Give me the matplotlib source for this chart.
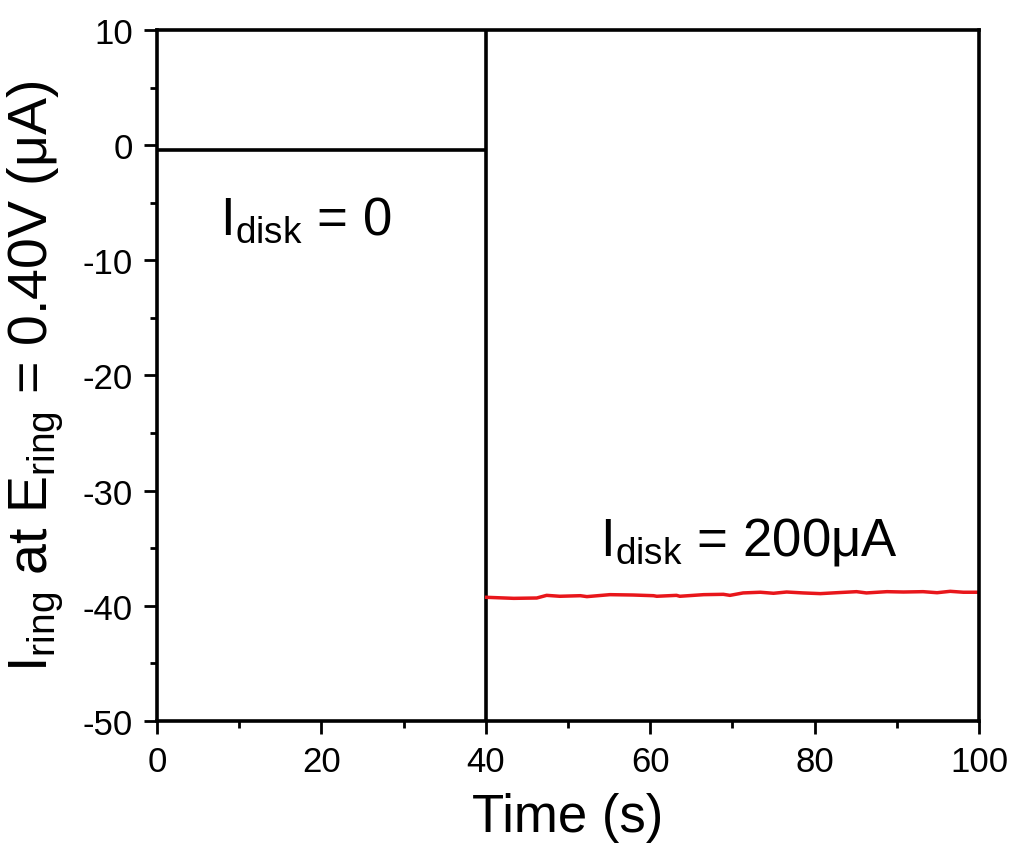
import matplotlib
matplotlib.use("Agg")
import matplotlib.pyplot as plt
from matplotlib.ticker import MultipleLocator

plt.rcParams['font.family'] = ['Liberation Sans', 'DejaVu Sans']
plt.rcParams['mathtext.fontset'] = 'custom'
plt.rcParams['mathtext.rm'] = 'Liberation Sans'
plt.rcParams['mathtext.it'] = 'Liberation Sans'
plt.rcParams['axes.unicode_minus'] = False

# Black trace: I_disk = 0 (0-40 s), then switching step at 40 s
t_off = [0, 40]
i_off = [-0.4, -0.4]
t_step = [40, 40]
i_step = [10, -50]

# Red trace: I_disk = 200 uA (40-100 s)
t_on = [40.1, 43.4, 46.2, 47.4, 49.0, 51.5, 52.3, 55.1, 57.9, 60.4, 60.8, 63.2,
        63.6, 66.5, 68.9, 69.7, 71.3, 73.4, 75.0, 76.6, 78.6, 80.7, 82.7, 85.1,
        86.3, 88.8, 90.8, 93.2, 94.9, 96.5, 98.1, 100.0]
i_on = [-39.26, -39.35, -39.32, -39.09, -39.17, -39.12, -39.20, -39.03, -39.06,
        -39.12, -39.17, -39.09, -39.17, -39.03, -39.00, -39.09, -38.88, -38.82,
        -38.91, -38.80, -38.88, -38.94, -38.86, -38.77, -38.88, -38.77, -38.80,
        -38.77, -38.86, -38.74, -38.82, -38.82]

x_ticks = [0, 20, 40, 60, 80, 100]
y_ticks = [10, 0, -10, -20, -30, -40, -50]

fig = plt.figure(figsize=(10.15, 8.45), dpi=100)
ax = fig.add_axes([157/1015, 1-722/845, (979-157)/1015, (722-31)/845])

ax.plot(t_off, i_off, color='black', lw=2.6, solid_capstyle='butt')
ax.plot(t_step, i_step, color='black', lw=2.6, solid_capstyle='butt')
ax.plot(t_on, i_on, color='#e8161b', lw=2.5)

ax.set_xlim(0, 100)
ax.set_ylim(-50, 10)
ax.set_xticks(x_ticks)
ax.set_yticks(y_ticks)
ax.xaxis.set_minor_locator(MultipleLocator(10))
ax.yaxis.set_minor_locator(MultipleLocator(5))
ax.tick_params(which='both', direction='out', top=False, right=False,
               width=2.0, labelsize=25, pad=8)
ax.tick_params(which='major', length=9.5)
ax.tick_params(which='minor', length=5)
for s in ax.spines.values():
    s.set_linewidth(2.6)

ax.set_xlabel('Time (s)', fontsize=38, labelpad=10)
ax.set_ylabel(r'$\mathregular{I_{ring}}$ at $\mathregular{E_{ring}}$ = 0.40V (μA)',
              fontsize=40, labelpad=12)

ax.text(7.7, -7.7, r'$\mathregular{I_{disk}}$ = 0', fontsize=38, ha='left', va='baseline')
ax.text(53.9, -35.5, r'$\mathregular{I_{disk}}$ = 200μA', fontsize=38, ha='left', va='baseline')

fig.savefig('out.png', dpi=100)
